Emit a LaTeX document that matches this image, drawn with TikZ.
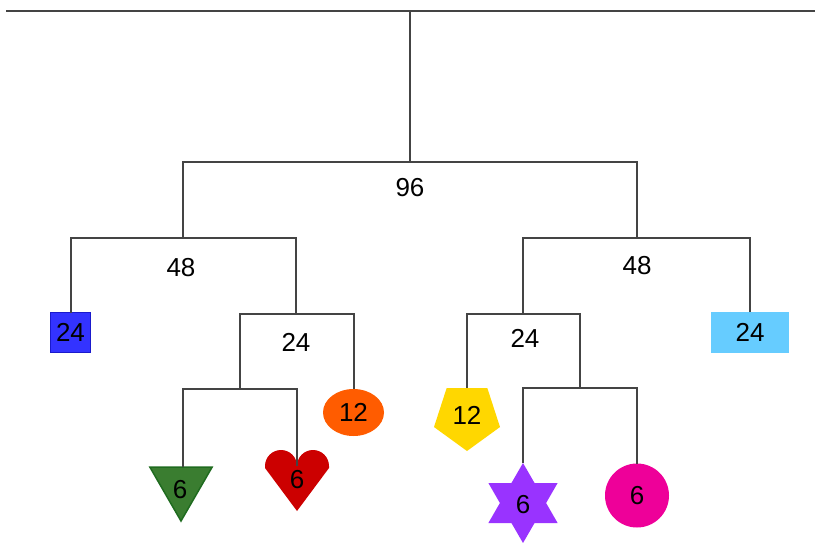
\documentclass[tikz,border=0pt]{standalone}
\usepackage{fontspec}
\setmainfont{Liberation Sans}
\usetikzlibrary{shapes.geometric}
\definecolor{linec}{HTML}{444444}
\definecolor{cblue}{HTML}{3333FF}
\definecolor{cbluedark}{HTML}{1A1ACC}
\definecolor{clblue}{HTML}{66CCFF}
\definecolor{corange}{HTML}{FF5C00}
\definecolor{cred}{HTML}{CC0000}
\definecolor{cgreen}{HTML}{3A7D30}
\definecolor{cgreendark}{HTML}{1F6B1F}
\definecolor{cyellow}{HTML}{FFD700}
\definecolor{cpurple}{HTML}{9933FF}
\definecolor{cpink}{HTML}{EE0099}
\begin{document}
\begin{tikzpicture}[x=1pt,y=-1pt,
  conn/.style={draw=linec,line width=2pt},
  lab/.style={font=\fontsize{26}{28}\selectfont,inner sep=0pt},
  leaf/.style={font=\fontsize{26}{28}\selectfont,inner sep=0pt,outer sep=0pt}]
\useasboundingbox (0,0) rectangle (815,542);

% leaves
\node[leaf,draw=cbluedark,fill=cblue,line width=1.5pt,minimum width=40pt,minimum height=40pt] (blue) at (70.5,332.5) {24};
\node[leaf,fill=clblue,minimum width=78pt,minimum height=41pt] (lblue) at (750,332.5) {24};
\node[leaf,ellipse,fill=corange,minimum width=61pt,minimum height=47pt] (ell) at (353.5,412.5) {12};
\node[leaf,regular polygon,regular polygon sides=3,shape border rotate=180,fill=cgreen,draw=cgreendark,line width=1.5pt,minimum size=72pt] (tri) at (181,485) {};
\node[lab] (tril) at (180,490) {6};
\node[leaf,regular polygon,regular polygon sides=5,shape border rotate=180,fill=cyellow,minimum size=69.4pt] (pent) at (467,416.3) {};
\node[lab] (pentl) at (467,415) {12};
\node[leaf,star,star points=6,star point ratio=1.732,fill=cpurple,minimum size=80pt] (star) at (523,503) {};
\node[lab] (starl) at (523,505) {6};
\node[leaf,circle,fill=cpink,minimum size=64pt] (circ) at (637,495.5) {6};
% heart
\fill[cred] (297,466) arc[start angle=0,end angle=-180,radius=16] -- (265,468) -- (297,511) -- (329,468) -- (329,466) arc[start angle=0,end angle=-180,radius=16] -- cycle;
\coordinate (heart) at (297,466);
\node[lab] (heartl) at (297,480) {6};

% junction coordinates
\coordinate (tl) at (6,11);
\coordinate (tr) at (815,11);
\coordinate (r0) at (410,11);
\coordinate (j0) at (410,162);
\coordinate (jL1) at (183,162);
\coordinate (jR1) at (637,162);
\coordinate (jL2) at (183,238);
\coordinate (jR2) at (637,238);
\coordinate (aL2) at (70.5,238);
\coordinate (bL2) at (296,238);
\coordinate (aR2) at (523,238);
\coordinate (bR2) at (750,238);
\coordinate (jL3) at (296,314);
\coordinate (aL3) at (240,314);
\coordinate (bL3) at (353.5,314);
\coordinate (jR3) at (523,314);
\coordinate (aR3) at (467,314);
\coordinate (bR3) at (580,314);
\coordinate (jL4) at (240,389);
\coordinate (aL4) at (183,389);
\coordinate (bL4) at (297,389);
\coordinate (jR4) at (580,388);
\coordinate (aR4) at (523,388);
\coordinate (bR4) at (637,388);

% connectors
\draw[conn] (tl) -- (tr);
\draw[conn] (r0) -- (j0);
\draw[conn] (jL2) -- (jL1) -- (jR1) -- (jR2);
\draw[conn] (blue.north) -- (aL2) -- (bL2) -- (jL3);
\draw[conn] (lblue.north) -- (bR2) -- (aR2) -- (jR3);
\draw[conn] (jL4) -- (aL3) -- (bL3) -- (ell.north);
\draw[conn] (pent.north) -- (aR3) -- (bR3) -- (jR4);
\draw[conn] (aL4 |- tri.north) -- (aL4) -- (bL4) -- (heart);
\draw[conn] (star.north) -- (aR4) -- (bR4) -- (circ.north);

% labels
\node[lab] (l96) at (410,188) {96};
\node[lab] (l48a) at (181,268) {48};
\node[lab] (l48b) at (637,266) {48};
\node[lab] (l24a) at (296,342) {24};
\node[lab] (l24b) at (525,338) {24};
\end{tikzpicture}
\end{document}
